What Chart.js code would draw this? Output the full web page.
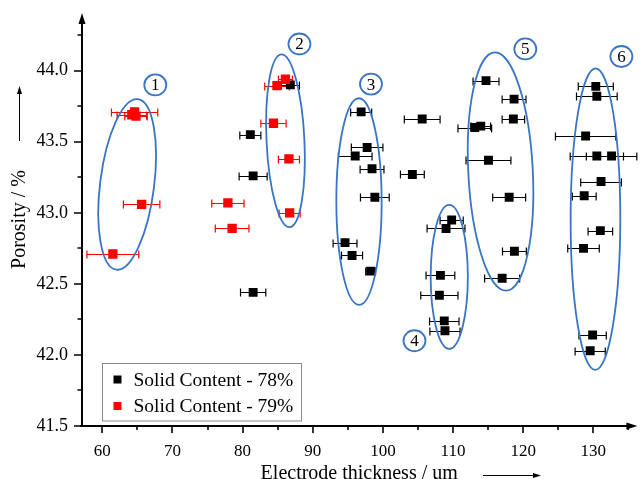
<!DOCTYPE html>
<html>
<head>
<meta charset="utf-8">
<script src="https://cdn.jsdelivr.net/npm/chart.js@4"></script>
<style>
  body { margin: 0; background: #fff; }
</style>
</head>
<body>
<canvas id="chart" width="643" height="479"></canvas>
<script>
// Solid content 78 % (black)
const black78X = [86.8, 81.1, 81.5, 81.5,
  96.9, 97.75, 96.05, 98.45, 98.85, 94.6, 95.6, 98.25,
  105.6, 104.2,
  109.8, 109.0, 108.2, 108.05, 108.75, 108.85,
  114.7, 118.7, 118.6, 113.95, 113.1, 115.05, 118.0, 118.75, 117.0,
  130.35, 130.5, 128.9, 130.5, 132.6, 131.1, 128.7, 131.0, 128.6, 129.9, 129.55];
const black78Y = [43.90, 43.55, 43.26, 42.44,
  43.71, 43.46, 43.40, 43.31, 43.11, 42.79, 42.70, 42.59,
  43.66, 43.27,
  42.95, 42.89, 42.56, 42.42, 42.24, 42.17,
  43.93, 43.80, 43.66, 43.61, 43.60, 43.37, 43.11, 42.73, 42.54,
  43.89, 43.82, 43.54, 43.40, 43.40, 43.22, 43.12, 42.875, 42.75, 42.14, 42.03];
const black78Err = [1.3, 1.5, 2.0, 1.8,
  1.5, 2.25, 2.4, 1.7, 2.05, 1.7, 1.5, 0.7,
  2.55, 1.7,
  1.65, 2.7, 2.05, 2.65, 2.1, 2.15,
  1.85, 1.7, 1.6, 1.4, 2.4, 3.2, 2.35, 1.7, 2.5,
  2.5, 2.9, 4.3, 3.8, 3.6, 2.9, 1.7, 1.75, 2.25, 1.95, 2.15];

// Solid content 79 % (red)
const red79X = [64.6, 64.2, 64.8, 65.6, 61.5, 77.9, 78.5, 86.1, 84.9, 84.4, 86.6, 86.7];
const red79Y = [43.71, 43.69, 43.68, 43.06, 42.71, 43.07, 42.89, 43.94, 43.895, 43.63, 43.38, 43.00];
const red79Err = [3.3, 2.1, 1.6, 2.6, 3.7, 2.3, 2.4, 1.0, 1.75, 1.8, 1.5, 1.5];

const seriesLabels = ['Solid Content - 78%', 'Solid Content - 79%'];

// axis ticks
const xTickValues = [60, 70, 80, 90, 100, 110, 120, 130];
const xMinorTicks = [65, 75, 85, 95, 105, 115, 125, 135];
const yTickValues = [41.5, 42.0, 42.5, 43.0, 43.5, 44.0];
const yMinorTicks = [41.75, 42.25, 42.75, 43.25, 43.75, 44.25];

// grouping ellipses: top point, bottom point, half width (x units), label + label position
const groupTop = [[65.07, 43.80], [85.52, 44.115], [96.57, 43.806], [109.46, 43.056], [115.92, 44.129], [130.33, 44.017]];
const groupBottom = [[62.0, 42.60], [86.7, 42.899], [96.61, 42.352], [109.46, 42.043], [117.62, 42.452], [130.28, 41.895]];
const groupHalfWidth = [3.85, 2.7, 3.23, 2.65, 4.6, 3.54];
const groupLabels = ['1', '2', '3', '4', '5', '6'];
const groupLabelPos = [[67.55, 43.90], [88.1, 44.188], [98.3, 43.906], [104.5, 42.10], [120.3, 44.153], [134.0, 44.10]];

const serif = "'Liberation Serif', 'Times New Roman', serif";
Chart.defaults.color = '#000';
Chart.defaults.font.family = serif;

function toPoints(xs, ys){
    return xs.map((x, i) => ({x: x, y: ys[i]}));
}

function arrowHead(ctx, x, y, dir, len, half){
    ctx.beginPath();
    if(dir === 'up'){
        ctx.moveTo(x, y); ctx.lineTo(x - half, y + len); ctx.lineTo(x + half, y + len);
    } else {
        ctx.moveTo(x, y); ctx.lineTo(x - len, y - half); ctx.lineTo(x - len, y + half);
    }
    ctx.closePath();
    ctx.fill();
}

// axes with arrows, minor ticks, title arrows
const axesPlugin = {
    id: 'axesPlugin',
    beforeDatasetsDraw(chart){
        const {ctx, chartArea: a, scales: {x, y}} = chart;
        ctx.save();
        ctx.strokeStyle = '#000';
        ctx.fillStyle = '#000';
        ctx.lineWidth = 2;
        ctx.beginPath();
        ctx.moveTo(a.left - 2, a.bottom); ctx.lineTo(a.right - 6, a.bottom);
        ctx.moveTo(a.left, a.bottom + 1); ctx.lineTo(a.left, a.top + 6);
        ctx.stroke();
        arrowHead(ctx, a.right + 1, a.bottom, 'right', 11, 3.5);
        arrowHead(ctx, a.left, a.top, 'up', 11, 3.5);

        ctx.lineWidth = 1.6;
        ctx.beginPath();
        xTickValues.forEach(v => { const p = Math.round(x.getPixelForValue(v)); ctx.moveTo(p, a.bottom); ctx.lineTo(p, a.bottom + 7); });
        xMinorTicks.forEach(v => { const p = Math.round(x.getPixelForValue(v)); ctx.moveTo(p, a.bottom); ctx.lineTo(p, a.bottom + 4); });
        yTickValues.forEach(v => { const p = Math.round(y.getPixelForValue(v)); ctx.moveTo(a.left, p); ctx.lineTo(a.left - 8, p); });
        yMinorTicks.forEach(v => { const p = Math.round(y.getPixelForValue(v)); ctx.moveTo(a.left, p); ctx.lineTo(a.left - 4.5, p); });
        ctx.stroke();

        // arrows next to axis titles
        ctx.lineWidth = 1;
        ctx.beginPath();
        ctx.moveTo(19.5, 141); ctx.lineTo(19.5, 92);
        ctx.moveTo(483, 475.5); ctx.lineTo(534, 475.5);
        ctx.stroke();
        arrowHead(ctx, 19.5, 86, 'up', 8, 2.5);
        arrowHead(ctx, 541, 475.5, 'right', 8, 2.5);
        ctx.restore();
    }
};

// horizontal error bars
const errorBars = {
    id: 'errorBars',
    beforeDatasetsDraw(chart){
        const {ctx, scales: {x, y}} = chart;
        ctx.save();
        ctx.lineWidth = 1.2;
        chart.data.datasets.forEach(ds => {
            ctx.strokeStyle = ds.borderColor;
            ds.data.forEach((p, i) => {
                const e = ds.xErr[i];
                const x0 = x.getPixelForValue(p.x - e);
                const x1 = x.getPixelForValue(p.x + e);
                const py = Math.round(y.getPixelForValue(p.y)) + 0.5;
                ctx.beginPath();
                ctx.moveTo(x0, py); ctx.lineTo(x1, py);
                ctx.moveTo(x0, py - 4); ctx.lineTo(x0, py + 4);
                ctx.moveTo(x1, py - 4); ctx.lineTo(x1, py + 4);
                ctx.stroke();
            });
        });
        ctx.restore();
    }
};

// blue ellipses and circled numbers
const groupPlugin = {
    id: 'groupPlugin',
    afterDatasetsDraw(chart){
        const {ctx, scales: {x, y}} = chart;
        const pxPerX = x.getPixelForValue(1) - x.getPixelForValue(0);
        ctx.save();
        ctx.strokeStyle = '#3a74c4';
        ctx.lineWidth = 1.8;
        groupTop.forEach((t, i) => {
            const b = groupBottom[i];
            const x1 = x.getPixelForValue(t[0]), y1 = y.getPixelForValue(t[1]);
            const x2 = x.getPixelForValue(b[0]), y2 = y.getPixelForValue(b[1]);
            const len = Math.hypot(x2 - x1, y2 - y1) / 2;
            const ang = Math.atan2(y2 - y1, x2 - x1);
            ctx.beginPath();
            ctx.ellipse((x1 + x2) / 2, (y1 + y2) / 2, len, groupHalfWidth[i] * pxPerX, ang, 0, Math.PI * 2);
            ctx.stroke();
        });
        ctx.font = '17px ' + serif;
        ctx.textAlign = 'center';
        ctx.textBaseline = 'middle';
        ctx.fillStyle = '#000';
        groupLabels.forEach((lbl, i) => {
            const cx = x.getPixelForValue(groupLabelPos[i][0]);
            const cy = y.getPixelForValue(groupLabelPos[i][1]);
            ctx.beginPath();
            ctx.ellipse(cx, cy, 11, 10.5, 0, 0, Math.PI * 2);
            ctx.stroke();
            ctx.fillText(lbl, cx, cy + 1);
        });
        ctx.restore();
    }
};

// boxed legend inside the plot
const boxLegend = {
    id: 'boxLegend',
    afterDraw(chart){
        const {ctx, chartArea: a} = chart;
        const left = a.left + 20.5, top = a.bottom - 62.5;
        ctx.save();
        ctx.fillStyle = '#fff';
        ctx.fillRect(left, top, 199, 57.5);
        ctx.strokeStyle = '#8a8a8a';
        ctx.lineWidth = 1;
        ctx.strokeRect(left, top, 199, 57.5);
        ctx.font = '19.5px ' + serif;
        ctx.textBaseline = 'middle';
        chart.data.datasets.forEach((ds, i) => {
            const cy = top + 16 + i * 26.5;
            ctx.fillStyle = ds.backgroundColor;
            ctx.fillRect(left + 11, cy - 4, 8, 8);
            ctx.fillStyle = '#000';
            ctx.fillText(ds.label, left + 31, cy + 1);
        });
        ctx.restore();
    }
};

new Chart(document.getElementById('chart'), {
    type: 'scatter',
    data: {
        datasets: [{
            label: seriesLabels[0],
            data: toPoints(black78X, black78Y),
            xErr: black78Err,
            pointStyle: 'rect',
            pointRadius: 6.3,
            backgroundColor: '#000000',
            borderColor: '#000000',
            borderWidth: 0,
            order: 2
        }, {
            label: seriesLabels[1],
            data: toPoints(red79X, red79Y),
            xErr: red79Err,
            pointStyle: 'rect',
            pointRadius: 6.6,
            backgroundColor: '#ff0000',
            borderColor: '#ff0000',
            borderWidth: 0,
            order: 1
        }]
    },
    options: {
        responsive: false,
        animation: false,
        layout: {padding: {top: 13, right: 3, left: 0, bottom: 0}},
        plugins: {
            legend: {display: false},
            tooltip: {enabled: false}
        },
        scales: {
            x: {
                type: 'linear',
                min: 57.1,
                max: 136.14,
                afterBuildTicks: s => { s.ticks = xTickValues.map(v => ({value: v})); },
                afterFit: s => { s.height = 53; s.paddingLeft = 0; s.paddingRight = 0; },
                grid: {display: false, drawTicks: true, tickLength: 7},
                border: {display: false},
                ticks: {padding: 8, color: '#000', font: {family: serif, size: 17}, maxRotation: 0},
                title: {
                    display: true,
                    text: 'Electrode thickness / um',
                    color: '#000',
                    font: {family: serif, size: 20},
                    padding: {top: 0, bottom: -7}
                }
            },
            y: {
                type: 'linear',
                min: 41.5,
                max: 44.406,
                afterBuildTicks: s => { s.ticks = yTickValues.map(v => ({value: v})); },
                afterFit: s => { s.width = 82; s.paddingTop = 0; s.paddingBottom = 0; },
                grid: {display: false, drawTicks: true, tickLength: 7},
                border: {display: false},
                ticks: {padding: 7, color: '#000', font: {family: serif, size: 18}, callback: v => v.toFixed(1)},
                title: {
                    display: true,
                    text: 'Porosity / %',
                    color: '#000',
                    font: {family: serif, size: 20},
                    padding: {top: 8, bottom: 0}
                }
            }
        }
    },
    plugins: [axesPlugin, errorBars, groupPlugin, boxLegend]
});
</script>
</body>
</html>
